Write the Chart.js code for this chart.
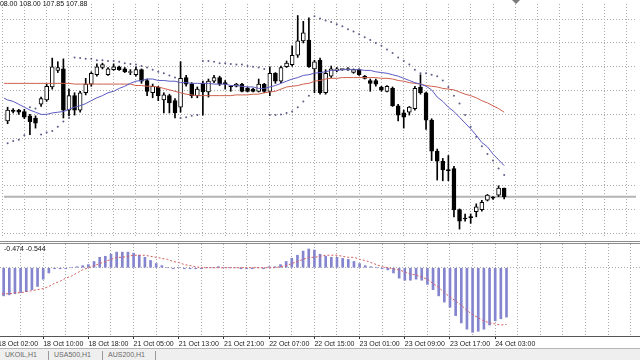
<!DOCTYPE html>
<html>
<head>
    <title>UKOIL,H1</title>
    <script src="https://cdnjs.cloudflare.com/ajax/libs/Chart.js/4.4.1/chart.umd.min.js"></script>
    <style>
        body { margin: 0; background: #fff; }
        #wrap { position: relative; width: 640px; height: 360px; overflow: hidden; font-family: 'Liberation Sans', Arial, sans-serif; }
        canvas { position: absolute; left: 0; }
        #priceChart { top: 0; }
        #macdChart { top: 244px; }
        #sep { position: absolute; left: 0; top: 241px; width: 640px; height: 1px; border-top: 1px solid #8c8c8c; border-bottom: 1px solid #8c8c8c; }
        .txt { position: absolute; font-size: 7px; line-height: 8px; color: #111; white-space: nowrap; z-index: 2; }
        #ohlc { left: -4px; top: 0; }
        #macdLabel { left: 4px; top: 245px; }
        #shiftMark { position: absolute; left: 512px; top: 0; width: 0; height: 0; border-left: 4px solid transparent; border-right: 4px solid transparent; border-top: 4px solid #7a7a7a; }
        #tabs { position: absolute; left: 0; top: 348px; width: 640px; height: 12px; background: #efefef; border-top: 1px solid #b4b4b4; }
        .tab { position: absolute; top: 0; font-size: 7px; line-height: 11px; color: #6a6a6a; }
        .tabSep { position: absolute; top: 2px; width: 1px; height: 9px; background: #9a9a9a; }
    </style>
</head>
<body>
<div id="wrap">
    <div id="ohlc" class="txt"></div>
    <div id="shiftMark"></div>
    <canvas id="priceChart" width="640" height="241"></canvas>
    <div id="sep"></div>
    <div id="macdLabel" class="txt"></div>
    <canvas id="macdChart" width="640" height="104"></canvas>
    <div id="tabs">
        <span class="tab" style="left:5px">UKOIL,H1</span>
        <span class="tabSep" style="left:48px"></span>
        <span class="tab" style="left:54px">USA500,H1</span>
        <span class="tabSep" style="left:102px"></span>
        <span class="tab" style="left:108px">AUS200,H1</span>
        <span class="tabSep" style="left:155px"></span>
    </div>
</div>

<script>
    // one label every 8 hourly bars
    const timeLabels = ['18 Oct 02:00', '18 Oct 10:00', '18 Oct 18:00', '21 Oct 05:00', '21 Oct 13:00', '21 Oct 21:00',
        '22 Oct 07:00', '22 Oct 15:00', '23 Oct 01:00', '23 Oct 09:00', '23 Oct 17:00', '24 Oct 03:00'];

    const openP = [109.00,108.93,109.08,109.08,109.06,109.00,108.97,109.16,109.22,109.40,
        109.63,109.65,109.08,109.28,109.08,109.32,109.44,109.57,109.67,109.57,
        109.64,109.68,109.65,109.60,109.57,109.64,109.49,109.32,109.40,109.22,
        109.28,109.21,109.12,109.53,109.44,109.28,109.45,109.33,109.48,109.53,
        109.46,109.41,109.41,109.44,109.38,109.37,109.34,109.44,109.34,109.59,
        109.48,109.68,109.71,109.84,110.04,110.05,109.65,109.77,109.32,109.55,
        109.63,109.64,109.64,109.60,109.64,109.55,109.49,109.49,109.40,109.34,
        109.38,109.14,109.04,109.05,109.10,109.40,109.32,108.94,108.51,108.37,
        108.25,108.27,107.70,107.58,107.60,107.67,107.70,107.83,107.87,107.90,
        108.00];
    const highP = [109.02,109.12,109.10,109.09,109.09,109.02,109.00,109.26,109.44,109.80,
        109.75,109.79,109.37,109.32,109.34,109.52,109.61,109.72,109.73,109.67,
        109.72,109.69,109.67,109.64,109.68,109.65,109.51,109.44,109.41,109.32,
        109.30,109.24,109.75,109.56,109.46,109.40,109.48,109.51,109.56,109.55,
        109.49,109.42,109.45,109.45,109.40,109.38,109.51,109.45,109.68,109.60,
        109.69,109.76,109.97,110.39,110.31,110.36,109.77,109.80,109.64,109.69,
        109.67,109.65,109.67,109.65,109.65,109.56,109.51,109.51,109.41,109.42,
        109.40,109.16,109.08,109.13,109.41,109.57,109.33,108.96,108.54,108.41,
        108.45,108.30,107.71,107.64,107.64,107.78,107.83,107.91,107.88,108.03,
        108.00];
    const lowP = [108.89,108.89,109.04,109.02,108.96,108.74,108.83,109.13,109.20,109.37,
        109.60,108.97,109.00,109.01,109.05,109.29,109.41,109.55,109.65,109.56,
        109.63,109.63,109.60,109.57,109.55,109.45,109.28,109.25,109.21,109.04,
        109.04,108.97,109.05,109.41,109.25,109.25,109.01,109.26,109.46,109.42,
        109.37,109.34,109.40,109.33,109.33,109.33,109.33,109.32,109.28,109.45,
        109.46,109.67,109.69,109.81,110.01,109.67,109.32,109.30,109.30,109.53,
        109.61,109.63,109.63,109.59,109.56,109.51,109.34,109.41,109.34,109.33,
        109.13,108.93,108.83,109.01,109.08,109.30,108.81,108.38,108.11,108.10,
        108.10,107.60,107.43,107.54,107.51,107.60,107.68,107.82,107.84,107.88,
        107.85];
    const closeP = [108.93,109.08,109.06,109.05,108.98,108.92,108.90,109.24,109.41,109.68,
        109.67,109.08,109.28,109.08,109.32,109.44,109.59,109.68,109.71,109.65,
        109.68,109.64,109.61,109.61,109.64,109.48,109.34,109.41,109.28,109.29,
        109.18,109.04,109.52,109.44,109.28,109.37,109.33,109.48,109.53,109.44,
        109.44,109.40,109.44,109.34,109.34,109.34,109.44,109.34,109.59,109.48,
        109.67,109.73,109.84,110.04,110.15,109.68,109.75,109.32,109.59,109.65,
        109.65,109.64,109.65,109.64,109.57,109.52,109.45,109.44,109.36,109.41,
        109.14,109.01,108.98,109.12,109.38,109.32,108.94,108.51,108.37,108.25,
        108.24,107.70,107.54,107.57,107.59,107.74,107.80,107.90,107.86,108.00,
        107.88];

    // moving averages (blue fast, red slow)
    const maFast = [109.26,109.22,109.20,109.16,109.12,109.08,109.05,109.02,109.02,109.04,
        109.05,109.06,109.09,109.12,109.14,109.17,109.21,109.25,109.28,109.32,
        109.34,109.38,109.41,109.45,109.48,109.49,109.51,109.51,109.49,109.49,
        109.48,109.48,109.46,109.46,109.45,109.45,109.45,109.45,109.44,109.44,
        109.44,109.42,109.42,109.41,109.40,109.40,109.38,109.38,109.40,109.42,
        109.45,109.48,109.51,109.53,109.56,109.57,109.59,109.60,109.61,109.63,
        109.63,109.64,109.64,109.64,109.64,109.63,109.63,109.61,109.60,109.59,
        109.57,109.55,109.52,109.49,109.46,109.44,109.41,109.36,109.26,109.20,
        109.12,109.06,108.98,108.90,108.82,108.73,108.63,108.57,108.47,108.39,
        108.31];
    const maSlow = [109.45,109.45,109.45,109.45,109.45,109.45,109.45,109.45,109.45,109.45,
        109.45,109.45,109.45,109.44,109.44,109.44,109.44,109.44,109.44,109.44,
        109.44,109.44,109.44,109.44,109.42,109.42,109.41,109.41,109.40,109.38,
        109.36,109.34,109.32,109.30,109.29,109.28,109.28,109.28,109.28,109.28,
        109.28,109.28,109.29,109.29,109.29,109.30,109.30,109.32,109.33,109.34,
        109.37,109.40,109.41,109.42,109.44,109.45,109.48,109.49,109.51,109.52,
        109.52,109.53,109.53,109.53,109.53,109.53,109.53,109.53,109.52,109.52,
        109.51,109.49,109.48,109.46,109.45,109.44,109.42,109.41,109.40,109.38,
        109.37,109.36,109.33,109.30,109.28,109.25,109.21,109.18,109.14,109.10,
        109.05];
    // parabolic SAR dots
    const sarDots = [108.59,108.62,108.65,108.67,108.73,109.12,109.10,108.74,108.77,108.79,
        108.85,108.92,108.97,109.81,109.80,109.79,109.79,109.77,109.77,109.76,
        109.76,109.75,109.73,109.72,109.71,109.69,109.67,109.64,109.61,109.59,
        109.56,109.53,108.97,108.98,109.00,109.01,109.76,109.76,109.75,109.73,
        109.73,109.72,109.71,109.71,109.69,109.68,109.67,109.65,109.01,109.01,
        109.02,109.04,109.06,109.12,109.20,109.28,110.38,110.35,110.32,110.30,
        110.27,110.24,110.20,110.17,110.13,110.09,110.05,110.01,109.97,109.92,
        109.87,109.81,109.76,109.71,109.64,109.59,109.59,109.57,109.55,109.49,
        109.40,109.28,109.17,109.01,108.85,108.71,108.58,108.47,108.38,108.27,
        108.18];

    const macdMain = [-0.27,-0.27,-0.26,-0.25,-0.24,-0.23,-0.21,-0.18,-0.11,-0.05,
        -0.01,-0.01,-0.01,0.00,0.01,0.02,0.03,0.06,0.10,0.11,
        0.13,0.15,0.15,0.15,0.14,0.12,0.10,0.07,0.04,0.02,
        0.00,-0.01,0.00,-0.01,-0.01,-0.01,-0.01,0.00,0.00,0.01,
        0.00,0.00,0.00,-0.01,-0.01,-0.01,0.00,-0.01,0.01,0.01,
        0.03,0.06,0.09,0.12,0.16,0.18,0.17,0.13,0.11,0.10,
        0.10,0.09,0.08,0.06,0.04,0.02,0.01,0.00,-0.01,-0.02,
        -0.05,-0.10,-0.12,-0.12,-0.11,-0.12,-0.16,-0.21,-0.27,-0.33,
        -0.38,-0.46,-0.53,-0.59,-0.62,-0.61,-0.59,-0.55,-0.51,-0.49,
        -0.474];
    const macdSignal = [-0.25,-0.25,-0.25,-0.24,-0.24,-0.23,-0.22,-0.21,-0.20,-0.18,
        -0.15,-0.13,-0.10,-0.08,-0.05,-0.02,0.00,0.02,0.04,0.06,
        0.08,0.10,0.10,0.11,0.12,0.12,0.12,0.11,0.10,0.09,
        0.08,0.06,0.05,0.03,0.02,0.01,0.00,0.00,0.00,0.00,
        0.00,0.00,0.00,0.00,0.00,0.00,0.00,0.00,0.00,0.00,
        0.01,0.02,0.04,0.06,0.08,0.10,0.10,0.11,0.12,0.12,
        0.12,0.11,0.10,0.10,0.08,0.07,0.05,0.03,0.01,0.00,
        -0.01,-0.02,-0.04,-0.06,-0.07,-0.09,-0.11,-0.15,-0.19,-0.24,
        -0.28,-0.32,-0.36,-0.41,-0.45,-0.48,-0.51,-0.53,-0.54,-0.55,
        -0.544];

    const barsPerLabel = 8;
    const last = closeP.length - 1;

    // visible bar range, the empty part on the right is the chart shift
    const xMin = 0.354, xMax = 113.63;
    const gridColor = '#a9a9a9';

    document.getElementById('ohlc').textContent =
        [openP[last], highP[last], lowP[last], closeP[last]].map(v => v.toFixed(2)).join(' ');
    document.getElementById('macdLabel').textContent =
        macdMain[last].toFixed(3) + ' ' + macdSignal[last].toFixed(3);

    function pts(arr) {
        return arr.map((v, i) => ({x: i, y: v}));
    }

    function isLabelTick(v) {
        return v % barsPerLabel === 0 && v / barsPerLabel < timeLabels.length;
    }

    function timeAxis(withLabels) {
        return {
            type: 'linear',
            bounds: 'data',
            offset: false,
            min: xMin,
            max: xMax,
            afterBuildTicks: scale => {
                const t = [];
                for (let v = 0; v <= xMax; v += 4) t.push({value: v});
                scale.ticks = t;
            },
            afterFit: scale => {
                scale.paddingLeft = 0;
                scale.paddingRight = 0;
                if (withLabels) scale.height = 12;
            },
            grid: {
                offset: false,
                color: gridColor,
                lineWidth: 1,
                drawTicks: withLabels,
                tickLength: 3,
                tickBorderDash: [],
                tickColor: ctx => isLabelTick(ctx.tick ? ctx.tick.value : NaN) ? '#333' : 'rgba(0,0,0,0)'
            },
            border: {display: withLabels, color: '#555', width: 1, dash: [1, 2]},
            ticks: {
                display: withLabels,
                autoSkip: false,
                maxRotation: 0,
                minRotation: 0,
                align: 'start',
                padding: 1,
                color: '#1a1a1a',
                font: {family: 'Liberation Sans', size: 7},
                callback: v => isLabelTick(v) ? timeLabels[v / barsPerLabel] : ''
            }
        };
    }

    // grey bid line at the last close
    const bidLine = {
        id: 'bidLine',
        beforeDatasetsDraw(chart) {
            const y = chart.scales.y.getPixelForValue(closeP[last]);
            const {ctx, chartArea} = chart;
            ctx.save();
            ctx.strokeStyle = '#b4b4b4';
            ctx.lineWidth = 2;
            ctx.beginPath();
            ctx.moveTo(chartArea.left, y);
            ctx.lineTo(chartArea.right, y);
            ctx.stroke();
            ctx.restore();
        }
    };

    const gridPrices = [];
    for (let p = 107.37; p < 110.55; p += 0.33) gridPrices.push(p);

    const baseOptions = {
        responsive: false,
        maintainAspectRatio: false,
        animation: false,
        layout: {padding: 0},
        plugins: {legend: {display: false}, tooltip: {enabled: false}}
    };

    new Chart(document.getElementById('priceChart'), {
        type: 'bar',
        data: {
            datasets: [
                {type: 'line', data: pts(maFast), borderColor: '#5a5ac2', borderWidth: 1, pointRadius: 0, order: 0},
                {type: 'line', data: pts(maSlow), borderColor: '#cf604e', borderWidth: 1, pointRadius: 0, order: 0},
                {type: 'line', data: pts(sarDots), showLine: false, pointRadius: 1, pointBorderWidth: 0,
                    pointBackgroundColor: '#5e5e88', order: 0},
                {
                    data: openP.map((o, i) => ({x: i, y: [o, closeP[i]]})),
                    backgroundColor: openP.map((o, i) => closeP[i] >= o ? '#ffffff' : '#000000'),
                    borderColor: '#000',
                    borderWidth: 1,
                    borderSkipped: false,
                    barThickness: 4,
                    minBarLength: 1,
                    grouped: false,
                    order: 1
                },
                {
                    data: lowP.map((l, i) => ({x: i, y: [l, highP[i]]})),
                    backgroundColor: '#000',
                    barThickness: 1,
                    grouped: false,
                    order: 2
                }
            ]
        },
        options: {
            ...baseOptions,
            scales: {
                x: timeAxis(false),
                y: {
                    type: 'linear',
                    bounds: 'data',
                    min: 107.3206,
                    max: 110.55,
                    afterBuildTicks: scale => { scale.ticks = gridPrices.map(v => ({value: v})); },
                    ticks: {display: false},
                    grid: {color: gridColor, drawTicks: false},
                    border: {display: false, dash: [1, 2]}
                }
            }
        },
        plugins: [bidLine]
    });

    new Chart(document.getElementById('macdChart'), {
        type: 'bar',
        data: {
            datasets: [
                {type: 'line', data: pts(macdSignal), borderColor: '#d65a5a', borderWidth: 1, borderDash: [2, 2],
                    pointRadius: 0, order: 0},
                {data: pts(macdMain), backgroundColor: '#8585cf', barThickness: 2, grouped: false, order: 1}
            ]
        },
        options: {
            ...baseOptions,
            scales: {
                x: timeAxis(true),
                y: {
                    type: 'linear',
                    bounds: 'data',
                    min: -0.6555,
                    max: 0.228,
                    afterBuildTicks: scale => { scale.ticks = [{value: 0}]; },
                    ticks: {display: false},
                    grid: {color: gridColor, drawTicks: false},
                    border: {display: false, dash: [1, 2]}
                }
            }
        }
    });
</script>
</body>
</html>
